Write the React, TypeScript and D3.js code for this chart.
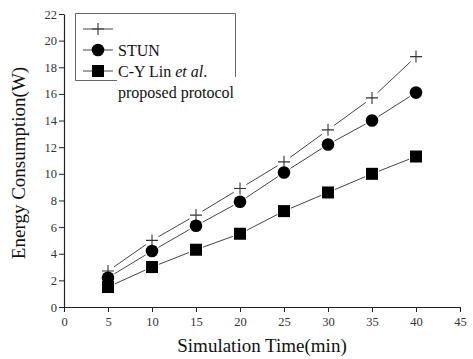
import React, { useEffect, useRef } from "react";
import * as d3 from "d3";

const times = [5, 10, 15, 20, 25, 30, 35, 40];
const plusSeries = [2.7, 5.0, 6.9, 8.9, 10.9, 13.3, 15.7, 18.8];
const stunSeries = [2.2, 4.2, 6.1, 7.9, 10.1, 12.2, 14.0, 16.1];
const linSeries = [1.5, 3.0, 4.3, 5.5, 7.2, 8.6, 10.0, 11.3];
const xTicks = [0, 5, 10, 15, 20, 25, 30, 35, 40, 45];
const yTicks = [0, 2, 4, 6, 8, 10, 12, 14, 16, 18, 20, 22];

const FONT = "'Liberation Serif', 'Times New Roman', serif";

export default function App() {
  const ref = useRef<SVGSVGElement | null>(null);

  useEffect(() => {
    if (!ref.current) return;
    const svg = d3.select(ref.current);
    svg.selectAll("*").remove();

    const x = d3.scaleLinear().domain([0, 45]).range([64, 460]);
    const y = d3.scaleLinear().domain([0, 22]).range([307, 14]);

    // axes
    const xAxis = svg
      .append("g")
      .attr("transform", `translate(0,${y(0)})`)
      .call(d3.axisBottom(x).tickValues(xTicks).tickSize(5).tickSizeOuter(0));
    const yAxis = svg
      .append("g")
      .attr("transform", `translate(${x(0)},0)`)
      .call(d3.axisLeft(y).tickValues(yTicks).tickSize(5).tickSizeOuter(0));
    [xAxis, yAxis].forEach((g) => {
      g.select(".domain").attr("stroke", "#222").attr("stroke-width", 1.2);
      g.selectAll(".tick line").attr("stroke", "#222");
      g.selectAll(".tick text")
        .attr("font-family", FONT)
        .attr("font-size", 12.5)
        .attr("fill", "#333");
    });
    xAxis.selectAll(".tick text").attr("dy", "0.9em");
    yAxis.selectAll(".tick text").attr("x", -7);

    svg
      .append("text")
      .attr("x", 262)
      .attr("y", 352)
      .attr("text-anchor", "middle")
      .attr("font-family", FONT)
      .attr("font-size", 19)
      .attr("fill", "#111")
      .text("Simulation Time(min)");
    svg
      .append("text")
      .attr("transform", "translate(25,163) rotate(-90)")
      .attr("text-anchor", "middle")
      .attr("font-family", FONT)
      .attr("font-size", 19)
      .attr("fill", "#111")
      .text("Energy Consumption(W)");

    const series = [
      { values: plusSeries, marker: "plus" },
      { values: stunSeries, marker: "circle" },
      { values: linSeries, marker: "square" },
    ];

    const gap = 7.5;
    const drawMarker = (g: any, cx: number, cy: number, kind: string) => {
      if (kind === "plus") {
        g.append("path")
          .attr("d", `M${cx - 6},${cy}H${cx + 6}M${cx},${cy - 6}V${cy + 6}`)
          .attr("stroke", "#333")
          .attr("stroke-width", 1.1)
          .attr("fill", "none");
      } else if (kind === "circle") {
        g.append("circle").attr("cx", cx).attr("cy", cy).attr("r", 6.3).attr("fill", "#000");
      } else {
        g.append("rect")
          .attr("x", cx - 6)
          .attr("y", cy - 6)
          .attr("width", 12)
          .attr("height", 12)
          .attr("fill", "#000");
      }
    };

    series.forEach((s) => {
      const g = svg.append("g");
      const pts = s.values.map((v, i) => [x(times[i]), y(v)]);
      for (let i = 0; i < pts.length - 1; i++) {
        const [x1, y1] = pts[i];
        const [x2, y2] = pts[i + 1];
        const len = Math.hypot(x2 - x1, y2 - y1);
        const ux = (x2 - x1) / len;
        const uy = (y2 - y1) / len;
        g.append("line")
          .attr("x1", x1 + ux * gap)
          .attr("y1", y1 + uy * gap)
          .attr("x2", x2 - ux * gap)
          .attr("y2", y2 - uy * gap)
          .attr("stroke", "#444")
          .attr("stroke-width", 1);
      }
      pts.forEach(([cx, cy]) => drawMarker(g, cx, cy, s.marker));
    });

    // legend
    const lg = svg.append("g");
    lg.append("path")
      .attr("d", "M117,80.5H75.5V13.5H235.5V77")
      .attr("fill", "none")
      .attr("stroke", "#666")
      .attr("stroke-width", 1);
    const rows = [
      { marker: "plus", y: 29 },
      { marker: "circle", y: 50 },
      { marker: "square", y: 71 },
    ];
    rows.forEach((r) => {
      lg.append("line")
        .attr("x1", 83)
        .attr("x2", 113)
        .attr("y1", r.y)
        .attr("y2", r.y)
        .attr("stroke", "#444")
        .attr("stroke-width", 1);
      drawMarker(lg, 98, r.y, r.marker);
    });
    lg.append("text")
      .attr("x", 118)
      .attr("y", 56)
      .attr("font-family", FONT)
      .attr("font-size", 16)
      .attr("fill", "#111")
      .text("STUN");
    const t = lg
      .append("text")
      .attr("x", 118)
      .attr("y", 77)
      .attr("font-family", FONT)
      .attr("font-size", 16)
      .attr("fill", "#111");
    t.append("tspan").text("C-Y Lin ");
    t.append("tspan").attr("font-style", "italic").text("et al");
    t.append("tspan").text(".");
    lg.append("text")
      .attr("x", 118)
      .attr("y", 98)
      .attr("font-family", FONT)
      .attr("font-size", 16)
      .attr("fill", "#111")
      .text("proposed protocol");
  }, []);

  return (
    <svg
      ref={ref}
      width={473}
      height={359}
      style={{ position: "absolute", left: 0, top: 0, background: "#fff" }}
    />
  );
}
